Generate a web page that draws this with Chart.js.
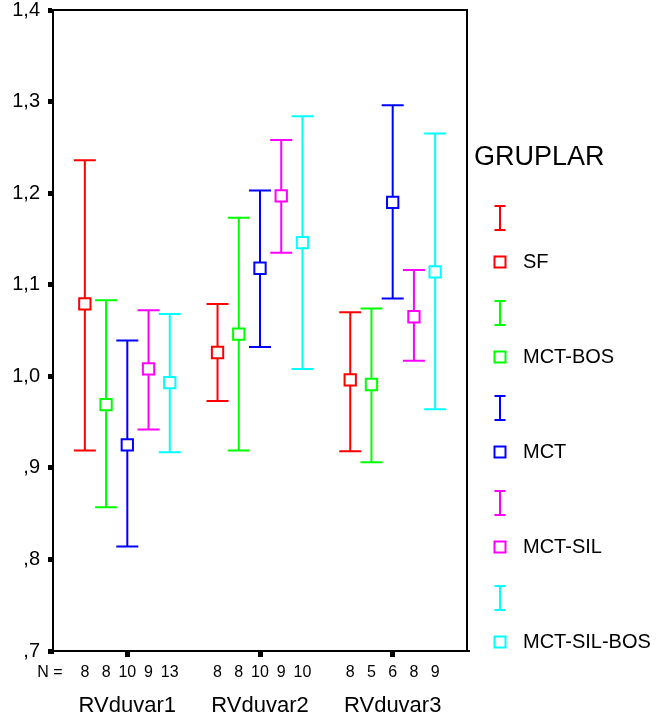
<!DOCTYPE html>
<html><head><meta charset="utf-8">
<script src="https://cdn.jsdelivr.net/npm/chart.js@4"></script>
<style>html,body{margin:0;padding:0;background:#fff}#wrap{width:657px;height:722px}</style>
</head><body><div id="wrap"><canvas id="c" width="657" height="722"></canvas></div>
<script>
const categories = ['RVduvar1', 'RVduvar2', 'RVduvar3'];
const groups = ['SF', 'MCT-BOS', 'MCT', 'MCT-SIL', 'MCT-SIL-BOS'];
const colors = ['#ff0000', '#00ff00', '#0000ff', '#ff00ff', '#00ffff'];
const yTickLabels = [',7', ',8', ',9', '1,0', '1,1', '1,2', '1,3', '1,4'];

// mean values per group (one per category)
const meanSF        = [1.079, 1.026, 0.996];
const meanMCTBOS    = [0.969, 1.046, 0.991];
const meanMCT       = [0.925, 1.118, 1.190];
const meanMCTSIL    = [1.008, 1.197, 1.065];
const meanMCTSILBOS = [0.993, 1.146, 1.114];

// lower error bar ends
const lowSF        = [0.919, 0.973, 0.918];
const lowMCTBOS    = [0.857, 0.919, 0.906];
const lowMCT       = [0.814, 1.032, 1.085];
const lowMCTSIL    = [0.942, 1.135, 1.017];
const lowMCTSILBOS = [0.917, 1.008, 0.964];

// upper error bar ends
const highSF        = [1.236, 1.079, 1.070];
const highMCTBOS    = [1.083, 1.173, 1.074];
const highMCT       = [1.039, 1.203, 1.296];
const highMCTSIL    = [1.072, 1.258, 1.116];
const highMCTSILBOS = [1.068, 1.284, 1.265];

// N per group per category
const nSF        = [8, 8, 8];
const nMCTBOS    = [8, 8, 5];
const nMCT       = [10, 10, 6];
const nMCTSIL    = [9, 9, 8];
const nMCTSILBOS = [13, 10, 9];

const means = [meanSF, meanMCTBOS, meanMCT, meanMCTSIL, meanMCTSILBOS];
const lows  = [lowSF, lowMCTBOS, lowMCT, lowMCTSIL, lowMCTSILBOS];
const highs = [highSF, highMCTBOS, highMCT, highMCTSIL, highMCTSILBOS];
const ns    = [nSF, nMCTBOS, nMCT, nMCTSIL, nMCTSILBOS];

const FONT = "'Liberation Sans', Arial, Helvetica, sans-serif";
const SERIES_OFFSET = 0.16;

const datasets = groups.map((g, j) => ({
  label: g,
  data: categories.map((c, i) => ({
    x: i + 1 + (j - 2) * SERIES_OFFSET,
    y: means[j][i],
    yMin: lows[j][i],
    yMax: highs[j][i],
    n: ns[j][i]
  })),
  borderColor: colors[j],
  backgroundColor: '#ffffff',
  pointStyle: 'rect',
  pointRadius: 8,
  pointHoverRadius: 8,
  pointBorderWidth: 2,
  pointBackgroundColor: '#ffffff',
  pointBorderColor: colors[j],
  showLine: false
}));

const errorBars = {
  id: 'errorBars',
  beforeDatasetsDraw(chart) {
    const ctx = chart.ctx;
    const ys = chart.scales.y, xs = chart.scales.x;
    ctx.save();
    ctx.lineWidth = 2;
    chart.data.datasets.forEach(ds => {
      ctx.strokeStyle = ds.borderColor;
      ds.data.forEach(d => {
        const px = xs.getPixelForValue(d.x);
        const pt = ys.getPixelForValue(d.yMax);
        const pb = ys.getPixelForValue(d.yMin);
        ctx.beginPath();
        ctx.moveTo(px, pt); ctx.lineTo(px, pb);
        ctx.moveTo(px - 11, pt); ctx.lineTo(px + 11, pt);
        ctx.moveTo(px - 11, pb); ctx.lineTo(px + 11, pb);
        ctx.stroke();
      });
    });
    ctx.restore();
  }
};

const frameAndLabels = {
  id: 'frameAndLabels',
  afterDraw(chart) {
    const ctx = chart.ctx;
    const a = chart.chartArea;
    const xs = chart.scales.x;
    ctx.save();
    // top and right frame
    ctx.strokeStyle = '#000';
    ctx.lineWidth = 2;
    ctx.beginPath();
    ctx.moveTo(a.left, a.top); ctx.lineTo(a.right, a.top); ctx.lineTo(a.right, a.bottom);
    ctx.stroke();
    // N row
    ctx.fillStyle = '#000';
    ctx.font = '16px ' + FONT;
    ctx.textAlign = 'center';
    ctx.textBaseline = 'middle';
    const ny = a.bottom + 22;
    ctx.fillText('N =', 50, ny);
    chart.data.datasets.forEach(ds => {
      ds.data.forEach(d => {
        ctx.fillText(String(d.n), xs.getPixelForValue(d.x), ny);
      });
    });
    // legend
    const lx = a.right + 7;
    ctx.textAlign = 'left';
    ctx.textBaseline = 'alphabetic';
    ctx.font = '27px ' + FONT;
    ctx.fillText('GRUPLAR', lx, 165);
    const cx = a.right + 33;
    chart.data.datasets.forEach((ds, j) => {
      const iy = 218 + j * 95;
      const sy = iy + 44;
      ctx.strokeStyle = ds.borderColor;
      ctx.lineWidth = 2;
      ctx.beginPath();
      ctx.moveTo(cx, iy - 12); ctx.lineTo(cx, iy + 12);
      ctx.moveTo(cx - 5.5, iy - 12); ctx.lineTo(cx + 5.5, iy - 12);
      ctx.moveTo(cx - 5.5, iy + 12); ctx.lineTo(cx + 5.5, iy + 12);
      ctx.stroke();
      ctx.fillStyle = '#fff';
      ctx.fillRect(cx - 5.5, sy - 5.5, 11, 11);
      ctx.strokeRect(cx - 5.5, sy - 5.5, 11, 11);
      ctx.fillStyle = '#000';
      ctx.font = '20px ' + FONT;
      ctx.textBaseline = 'middle';
      ctx.fillText(ds.label, a.right + 56, sy);
      ctx.textBaseline = 'alphabetic';
    });
    ctx.restore();
  }
};

new Chart(document.getElementById('c'), {
  type: 'scatter',
  data: { datasets },
  plugins: [errorBars, frameAndLabels],
  options: {
    responsive: false,
    animation: false,
    devicePixelRatio: 1,
    layout: { padding: { left: 0, right: 190, top: 10, bottom: 0 } },
    plugins: { legend: { display: false }, tooltip: { enabled: false } },
    scales: {
      x: {
        type: 'linear',
        min: 0.44,
        max: 3.56,
        afterBuildTicks(axis) { axis.ticks = categories.map((c, i) => ({ value: i + 1 })); },
        afterFit(scale) { scale.height = 71; scale.paddingLeft = 0; scale.paddingRight = 0; },
        ticks: {
          callback: (v, i) => categories[i],
          color: '#000',
          font: { family: FONT, size: 22 },
          padding: 36,
          maxRotation: 0,
          autoSkip: false
        },
        grid: { drawOnChartArea: false, drawTicks: true, tickLength: 6, lineWidth: 5, color: '#000' },
        border: { display: true, color: '#000', width: 2 }
      },
      y: {
        type: 'linear',
        min: 0.7,
        max: 1.4,
        afterBuildTicks(axis) { axis.ticks = yTickLabels.map((t, i) => ({ value: 0.7 + i * 0.1 })); },
        afterFit(scale) { scale.width = 53; scale.paddingTop = 0; scale.paddingBottom = 0; },
        ticks: {
          callback: (v, i) => yTickLabels[i],
          color: '#000',
          font: { family: FONT, size: 20 },
          padding: 8,
          autoSkip: false
        },
        grid: { drawOnChartArea: false, drawTicks: true, tickLength: 5, lineWidth: 5, color: '#000' },
        border: { display: true, color: '#000', width: 2 }
      }
    }
  }
});
</script>
</body></html>
